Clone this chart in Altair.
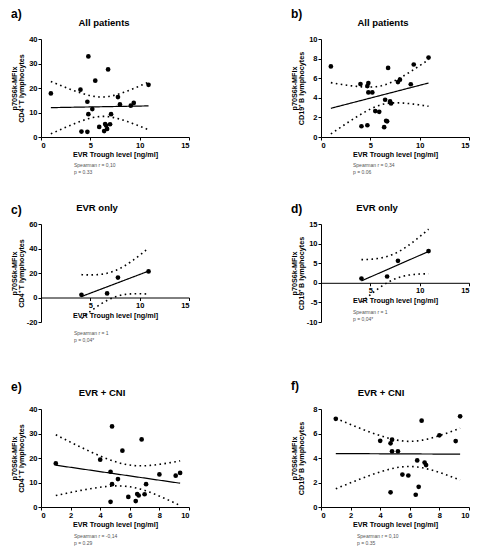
import numpy as np
import pandas as pd
import altair as alt

# ---- data ----------------------------------------------------------------
# EVR + CNI group: EVR trough level [ng/ml] and p70S6k-MFIx
cni_x_cd4 = [1.0, 4.0, 4.8, 4.7, 4.8, 5.2, 5.5, 4.7, 5.9, 6.5, 6.6, 6.4, 6.8, 7.0, 7.1, 8.0, 9.1, 9.4]
cni_cd4 = [17.8, 19.3, 32.9, 14.4, 9.3, 11.4, 23.0, 2.1, 4.1, 5.3, 4.7, 2.4, 27.6, 5.2, 9.3, 13.3, 12.8, 13.9]
cni_x_cd19 = [1.0, 4.0, 4.7, 4.8, 4.8, 5.2, 4.7, 5.5, 5.9, 6.5, 6.4, 6.6, 6.8, 7.0, 7.1, 8.0, 9.1, 9.4]
cni_cd19 = [7.2, 5.4, 5.2, 5.5, 4.55, 4.55, 1.2, 2.65, 2.57, 3.8, 1.0, 1.65, 7.05, 3.63, 3.42, 5.85, 5.38, 7.4]
# EVR only group
evr_x = [4.1, 6.7, 7.8, 10.9]
evr_cd4 = [2.2, 3.3, 16.3, 21.3]
evr_cd19 = [1.1, 1.6, 5.6, 8.1]

labels = ["a)", "b)", "c)", "d)", "e)", "f)"]
titles = ["All patients", "All patients", "EVR only", "EVR only", "EVR + CNI", "EVR + CNI"]
spearman_r = ["0,10", "0,34", "1", "1", "-0,14", "0,10"]
spearman_p = ["0.33", "0.06", "0,04*", "0,04*", "0.29", "0.35"]
cd4_title = ["p70S6k-MFIx", "CD4\u207a T lymphocytes"]
cd19_title = ["p70S6k-MFIx", "CD19\u207a B lymphocytes"]
x_title = "EVR Trough level [ng/ml]"
# two-sided 95% t quantiles for df = 20, 2, 16
t_all, t_evr, t_cni = 2.086, 4.303, 2.120

F = "Liberation Sans"
W, H = 148, 98


def fit_band(xs, ys, t):
    x = np.asarray(xs, float)
    y = np.asarray(ys, float)
    n = len(x)
    xm = x.mean()
    sxx = ((x - xm) ** 2).sum()
    b = ((x - xm) * (y - y.mean())).sum() / sxx
    a = y.mean() - b * xm
    s = np.sqrt(((y - (a + b * x)) ** 2).sum() / (n - 2))
    g = np.linspace(x.min(), x.max(), 80)
    f = a + b * g
    se = s * np.sqrt(1.0 / n + (g - xm) ** 2 / sxx)
    return pd.DataFrame({"x": g, "fit": f, "lo": f - t * se, "hi": f + t * se})


def panel(i, xs, ys, t, ytitle, xdom, xvals, ydom, yvals, xoff, laby, stx, sty, tdx):
    pts = pd.DataFrame({"x": xs, "y": ys})
    band = fit_band(xs, ys, t)
    xaxis = alt.Axis(values=xvals, title=x_title, offset=xoff)
    yaxis = alt.Axis(values=yvals, title=ytitle, labelExpr="'' + datum.value")
    X = alt.X("x:Q", scale=alt.Scale(domain=xdom, nice=False, zero=False), axis=xaxis)

    def Y(f):
        return alt.Y(f + ":Q", scale=alt.Scale(domain=ydom, nice=False, zero=False), axis=yaxis)

    bb = alt.Chart(band)
    dash = dict(color="black", strokeWidth=1.6, strokeDash=[1.6, 3.4])
    lo = bb.mark_line(**dash).encode(x=X, y=Y("lo"))
    hi = bb.mark_line(**dash).encode(x=X, y=Y("hi"))
    fl = bb.mark_line(color="black", strokeWidth=1.2).encode(x=X, y=Y("fit"))
    pt = alt.Chart(pts).mark_circle(color="black", opacity=1, size=22).encode(x=X, y=Y("y"))

    ttl = alt.Chart(pd.DataFrame({"t": [titles[i]]})).mark_text(
        font=F, fontSize=9.5, fontWeight="bold", color="black", align="center", baseline="middle"
    ).encode(x=alt.value(W / 2 + tdx), y=alt.value(-16), text="t:N")
    lab = alt.Chart(pd.DataFrame({"t": [labels[i]]})).mark_text(
        font=F, fontSize=12, fontWeight="bold", color="black", align="left", baseline="middle"
    ).encode(x=alt.value(-30), y=alt.value(laby), text="t:N")
    st = alt.Chart(pd.DataFrame({"t": ["Spearman r = " + spearman_r[i] + "\np = " + spearman_p[i]]})).mark_text(
        font=F, fontSize=5, color="#555555", align="left", baseline="middle", lineBreak="\n", lineHeight=7
    ).encode(x=alt.value(stx), y=alt.value(sty), text="t:N")

    return alt.layer(lo, hi, fl, pt, ttl, lab, st).properties(width=W, height=H)


pa = panel(0, cni_x_cd4 + evr_x, cni_cd4 + evr_cd4, t_all, cd4_title,
           [0, 15], [0, 5, 10, 15], [0, 40], [0, 10, 20, 30, 40], 0, -25, 33, 126, -11)
pb = panel(1, cni_x_cd19 + evr_x, cni_cd19 + evr_cd19, t_all, cd19_title,
           [0, 15], [0, 5, 10, 15], [0, 10], [0, 2, 4, 6, 8, 10], 0, -25, 32, 126, -12)
pc = panel(2, evr_x, evr_cd4, t_evr, cd4_title,
           [0, 15], [5, 10, 15], [-20, 60], [-20, 0, 20, 40, 60], -H * 0.25, -14, 33, 109, -18)
pd_ = panel(3, evr_x, evr_cd19, t_evr, cd19_title,
            [0, 15], [5, 10, 15], [-10, 15], [-10, -5, 0, 5, 10, 15], -H * 0.4, -15, 32, 88, -18)
pe = panel(4, cni_x_cd4, cni_cd4, t_cni, cd4_title,
           [0, 10], [0, 2, 4, 6, 8, 10], [0, 40], [0, 10, 20, 30, 40], 0, -22, 33, 127, -13)
pf = panel(5, cni_x_cd19, cni_cd19, t_cni, cd19_title,
           [0, 10], [0, 2, 4, 6, 8, 10], [0, 8], [0, 2, 4, 6, 8], 0, -23, 36, 127, -14)

chart = alt.concat(pa, pb, pc, pd_, pe, pf, columns=2,
                   spacing={"row": 87, "column": 132}, bounds="flush").properties(
    padding={"left": 2, "top": 0, "right": 0, "bottom": 0}
).configure(background="white").configure_view(strokeWidth=0).configure_axis(
    labelFont=F, labelFontSize=7.5, labelFontWeight="bold", labelColor="black", labelPadding=1,
    titleFont=F, titleFontSize=7.2, titleFontWeight="bold", titleColor="black", titlePadding=2,
    titleLineHeight=7.5, domainColor="black", domainWidth=1, tickColor="black", tickSize=3,
    tickWidth=1, grid=False
).configure_axisY(
    titleX=-23, titleY=H / 2, titleBaseline="bottom", titleAlign="center"
)

chart.save("out.html", embed_options={"renderer": "svg", "actions": False})
